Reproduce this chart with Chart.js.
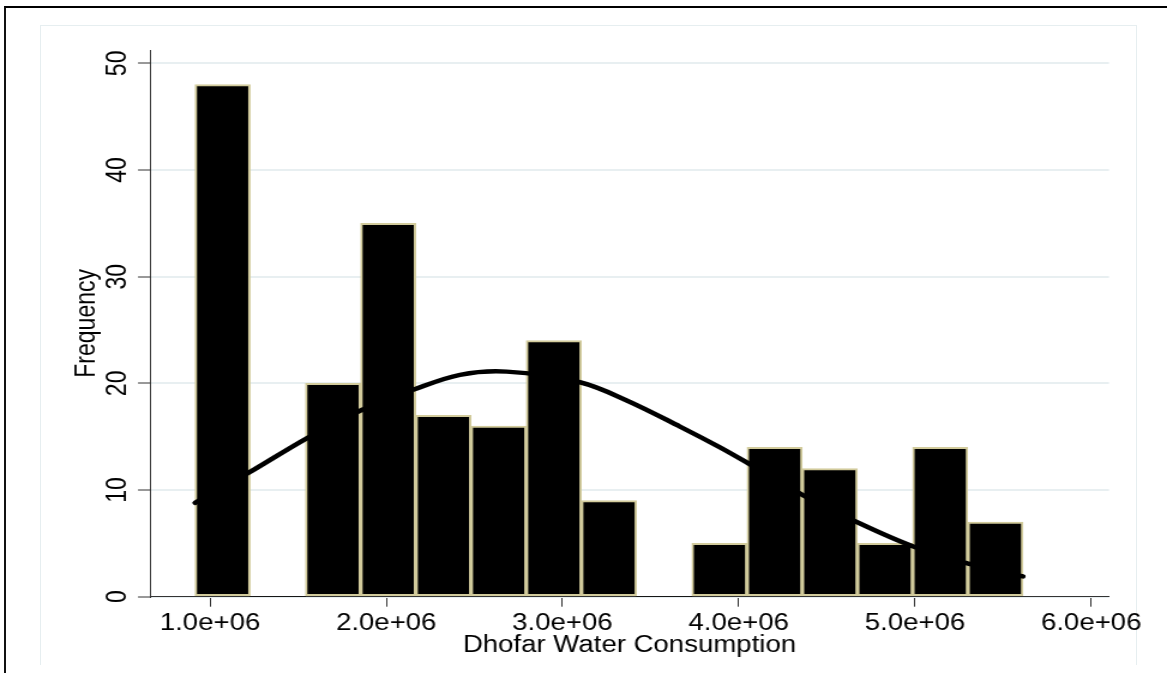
<!DOCTYPE html>
<html>
<head>
<meta charset="utf-8">
<script src="https://cdn.jsdelivr.net/npm/chart.js@4/dist/chart.umd.min.js"></script>
<style>
  html, body { margin: 0; padding: 0; background: #fff; overflow: hidden; }
  body { width: 1167px; height: 673px; position: relative; }
  #frame { position: absolute; left: 4px; top: 6px; width: 2000px; height: 2000px;
           border-top: 2px solid #000; border-left: 2px solid #111; box-sizing: border-box; }
  #inner { position: absolute; left: 40px; top: 25px; width: 1097px; height: 640px;
           border: 1px solid #e6eef0; border-bottom: none; box-sizing: border-box; }
  #wrap { position: absolute; left: 0; top: 0; width: 973px; height: 673px;
          transform: scaleX(1.19938); transform-origin: 0 0; }
</style>
</head>
<body>
<div id="frame"></div>
<div id="inner"></div>
<div id="wrap"><canvas id="c"></canvas></div>
<script>
// Histogram bins (bin centres) and counts
const binCenters = [1.0716e6, 1.3848e6, 1.6980e6, 2.0112e6, 2.3244e6, 2.6376e6, 2.9508e6, 3.2640e6,
                    3.5772e6, 3.8904e6, 4.2036e6, 4.5168e6, 4.8300e6, 5.1432e6, 5.4564e6];
const frequencies = [48, 0, 20, 35, 17, 16, 24, 9, 0, 5, 14, 12, 5, 14, 7];

// Normal-density overlay
const curveX = [0.915e6, 1.2173e6, 1.5487e6, 1.8607e6, 2.1535e6, 2.4184e6, 2.6834e6, 3.0993e6,
                3.3643e6, 3.6667e6, 3.8936e6, 4.0542e6, 4.3662e6, 4.6693e6, 4.9904e6, 5.3024e6, 5.613e6];
const curveY = [8.8, 11.6, 14.85, 17.5, 19.4, 20.8, 21.1, 20.1,
                18.4, 15.95, 14.0, 12.5, 9.5, 7.0, 4.7, 3.1, 1.9];

// Axis ticks
const xTickValues = [1e6, 2e6, 3e6, 4e6, 5e6, 6e6];
const xTickLabels = ['1.0e+06', '2.0e+06', '3.0e+06', '4.0e+06', '5.0e+06', '6.0e+06'];
const yTickValues = [0, 10, 20, 30, 40, 50];

const xTitle = 'Dhofar Water Consumption';
const yTitle = 'Frequency';

const FONT = '"Liberation Sans", Arial, Helvetica, sans-serif';

const barData = binCenters.map((x, i) => ({ x: x, y: frequencies[i] }));
const lineData = curveX.map((x, i) => ({ x: x, y: curveY[i] }));

new Chart(document.getElementById('c'), {
  data: {
    datasets: [
      {
        type: 'line',
        data: lineData,
        borderColor: '#000',
        borderWidth: 4.5,
        pointRadius: 0,
        tension: 0.35,
        borderCapStyle: 'round',
        borderJoinStyle: 'round',
        fill: false,
        order: 0
      },
      {
        type: 'bar',
        data: barData,
        backgroundColor: '#000',
        borderColor: '#d2cb9c',
        borderWidth: (ctx) => (frequencies[ctx.dataIndex] > 0 ? 2 : 0),
        borderSkipped: false,
        barPercentage: 1,
        categoryPercentage: 1,
        order: 1
      }
    ]
  },
  options: {
    responsive: true,
    maintainAspectRatio: false,
    animation: false,
    events: [],
    layout: { padding: { left: 0, right: 48.4, top: 50, bottom: 0 } },
    plugins: { legend: { display: false }, tooltip: { enabled: false }, title: { display: false } },
    scales: {
      x: {
        type: 'linear',
        offset: false,
        min: 0.6596e6,
        max: 6.1007e6,
        afterBuildTicks: (s) => { s.ticks = xTickValues.map(v => ({ value: v })); },
        afterFit: (s) => { s.height = 76.3; },
        ticks: {
          callback: (v, i) => xTickLabels[i],
          font: { family: FONT, size: 23 },
          color: '#000',
          padding: 3,
          maxRotation: 0,
          minRotation: 0,
          autoSkip: false
        },
        grid: { display: true, offset: false, drawOnChartArea: false, tickLength: 10, tickColor: '#333', tickWidth: 1 },
        border: { display: true, color: '#333', width: 1 },
        title: { display: true, text: xTitle, font: { family: FONT, size: 23 }, color: '#000',
                 padding: { top: 0, bottom: 14 } }
      },
      y: {
        type: 'linear',
        min: 0,
        max: 51.25,
        afterBuildTicks: (s) => { s.ticks = yTickValues.map(v => ({ value: v })); },
        afterFit: (s) => { s.width = 125.06; },
        ticks: {
          font: { family: FONT, size: 23 },
          color: '#000',
          padding: 4,
          minRotation: 90,
          maxRotation: 90,
          crossAlign: 'center',
          autoSkip: false
        },
        grid: { color: '#e8eff1', lineWidth: 2, tickLength: 10, tickColor: '#333', tickWidth: 1 },
        border: { display: true, color: '#333', width: 1 },
        title: { display: true, text: yTitle, font: { family: FONT, size: 23 }, color: '#000',
                 padding: { top: 59, bottom: 0 } }
      }
    }
  }
});
</script>
</body>
</html>
